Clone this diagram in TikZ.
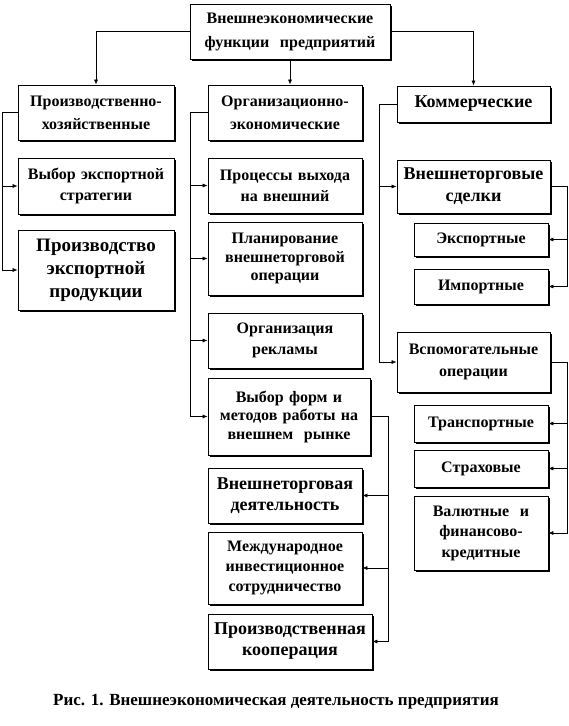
\documentclass[tikz,border=0pt]{standalone}
\usepackage{fontspec}
\setmainfont{Liberation Serif}
\usetikzlibrary{arrows.meta,shadows}
\newcommand\mkbox[7]{%
  \pgfmathsetmacro\bw{#4-#2}\pgfmathsetmacro\bh{#5-#3}%
  \pgfmathsetmacro\tw{#4-#2-4}%
  \pgfmathsetmacro\bcx{(#2+#4)/2}\pgfmathsetmacro\bcy{(#3+#5)/2}%
  \node[box,font=#6,minimum width=\bw pt,minimum height=\bh pt,text width=\tw pt] (#1) at (\bcx,\bcy) {#7};}
\newcommand\fsz[2]{\fontsize{#1}{#2}\selectfont\bfseries}
\begin{document}
\begin{tikzpicture}[x=1pt,y=-1pt,
  box/.style={draw=black,line width=0.8pt,fill=white,inner sep=0pt,align=center,
    drop shadow={shadow xshift=2pt,shadow yshift=-2pt,fill=black,opacity=1}},
  arr/.style={-{Latex[length=5pt,width=4pt]},line width=0.6pt},
]
\useasboundingbox[fill=white] (0,0) rectangle (569,726);
\mkbox{top}{190}{4}{390}{59}{\fsz{16}{24}}{Внешнеэкономические\\функции\ \ предприятий}
\mkbox{A1}{18}{85}{174}{140}{\fsz{16}{23}}{Производственно-\\хозяйственные}
\mkbox{A2}{18}{158}{174}{214}{\fsz{16}{21}}{Выбор экспортной\\стратегии}
\mkbox{A3}{18}{230}{174}{310}{\fsz{19}{23}}{Производство\\экспортной\\продукции}
\mkbox{B1}{208}{85}{362}{140}{\fsz{16}{23}}{Организационно-\\экономические}
\mkbox{B2}{208}{158}{362}{213}{\fsz{16}{21}}{Процессы выхода\\на внешний}
\mkbox{B3}{208}{222}{362}{295}{\fsz{16}{18.5}}{Планирование\\внешнеторговой\\операции}
\mkbox{B4}{208}{313}{362}{368}{\fsz{16}{21}}{Организация\\рекламы}
\mkbox{B5}{208}{378}{370}{455}{\fsz{16}{18.5}}{Выбор форм и\\методов работы на\\внешнем\ \ рынке}
\mkbox{B6}{208}{468}{362}{523}{\fsz{18}{20.5}}{Внешнеторговая\\деятельность}
\mkbox{B7}{208}{532}{362}{604}{\fsz{16}{20}}{Международное\\инвестиционное\\сотрудничество}
\mkbox{B8}{208}{614}{372}{669}{\fsz{18}{21}}{Производственная\\кооперация}
\mkbox{C1}{397}{86}{550}{122}{\fsz{18}{21}}{Коммерческие}
\mkbox{C2}{397}{160}{550}{213}{\fsz{18}{22}}{Внешнеторговые\\сделки}
\mkbox{C3}{414}{223}{548}{256}{\fsz{16}{20}}{Экспортные}
\mkbox{C4}{414}{269}{548}{304}{\fsz{16}{20}}{Импортные}
\mkbox{C5}{397}{332}{550}{392}{\fsz{16}{22}}{Вспомогательные\\операции}
\mkbox{C6}{414}{405}{548}{442}{\fsz{16}{20}}{Транспортные}
\mkbox{C7}{414}{450}{548}{487}{\fsz{16}{20}}{Страховые}
\mkbox{C8}{414}{496}{548}{570}{\fsz{16}{20.5}}{Валютные\ \ и\\финансово-\\кредитные}
% top connectors
\draw[arr] (top.west) -| (A1.north);
\draw[arr] (top.south) -- (top.south |- B1.north);
\draw[arr] (top.east) -| (C1.north);
% left column
\draw[arr] (A1.west) -- ++(-15,0) |- (A2.west);
\draw[arr] (A1.west) -- ++(-15,0) |- (A3.west);
% middle column
\draw[arr] (B1.west) -- ++(-17,0) |- (B2.west);
\draw[arr] (B1.west) -- ++(-17,0) |- (B3.west);
\draw[arr] (B1.west) -- ++(-17,0) |- (B4.west);
\draw[arr] (B1.west) -- ++(-17,0) |- (B5.west);
\draw[arr] (B5.east) -- ++(18,0) |- (B6.east);
\draw[arr] (B5.east) -- ++(18,0) |- (B7.east);
\draw[arr] (B5.east) -- ++(18,0) |- (B8.east);
% right column
\draw[arr] (C1.west) -- ++(-17,0) |- (C2.west);
\draw[arr] (C1.west) -- ++(-17,0) |- (C5.west);
\draw[arr] (C2.east) -- ++(17,0) |- (C3.east);
\draw[arr] (C2.east) -- ++(17,0) |- (C4.east);
\draw[arr] (C5.east) -- ++(17,0) |- (C6.east);
\draw[arr] (C5.east) -- ++(17,0) |- (C7.east);
\draw[arr] (C5.east) -- ++(17,0) |- (C8.east);
\node[font=\fsz{17}{20}] (cap) at (276,702) {Рис. 1. Внешнеэкономическая деятельность предприятия};
\end{tikzpicture}
\end{document}
